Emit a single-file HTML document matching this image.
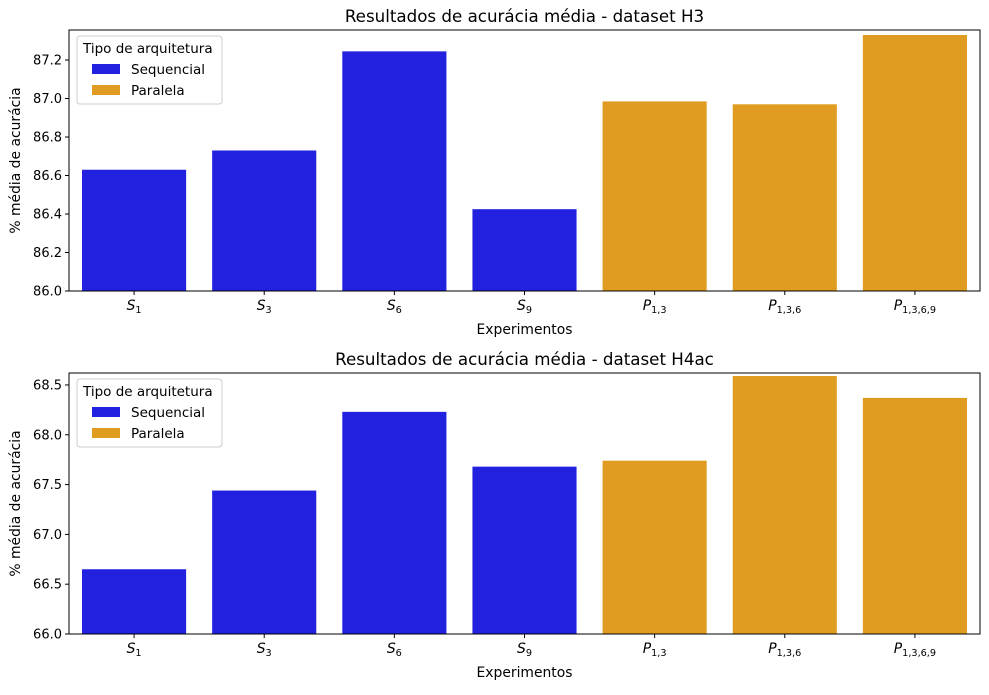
<!DOCTYPE html>
<html><head><meta charset="utf-8"><style>
body{margin:0;background:#fff;font-family:"Liberation Sans","DejaVu Sans",sans-serif;}
svg text{font-family:"DejaVu Sans","Liberation Sans",sans-serif;}
</style></head><body>
<svg id="chart" width="989" height="690" xmlns="http://www.w3.org/2000/svg"></svg>
<script>
const categories=["S|1","S|3","S|6","S|9","P|1,3","P|1,3,6","P|1,3,6,9"];
const groups=["seq","seq","seq","seq","par","par","par"];
const valuesH3=[86.63,86.73,87.245,86.425,86.985,86.97,87.33];
const valuesH4=[66.65,67.44,68.23,67.68,67.74,68.59,68.37];
const ticksH3=["86.0","86.2","86.4","86.6","86.8","87.0","87.2"];
const ticksH4=["66.0","66.5","67.0","67.5","68.0","68.5"];
const titles=["Resultados de acurácia média - dataset H3","Resultados de acurácia média - dataset H4ac"];
const colors={seq:"#2121df",par:"#e09c21"};
const NS="http://www.w3.org/2000/svg";
const svg=document.getElementById("chart");
function el(tag,attrs,parent){const e=document.createElementNS(NS,tag);for(const k in attrs)e.setAttribute(k,attrs[k]);(parent||svg).appendChild(e);return e;}
function panel(top,vals,ticks,ymin,ymax,title,name){
  const g=el("g",{});
  
  
  const L=69,R=980,T=top,B=top+261;
  const y=v=>B-(v-ymin)/(ymax-ymin)*(B-T);
  const band=(R-L)/categories.length;
  const x=i=>L+band*i+band*0.1;
  vals.forEach((v,i)=>{
    const r=el("rect",{x:x(i),y:y(v),width:band*0.8,height:B-y(v),fill:colors[groups[i]]},g);
    
    
  });
  el("rect",{x:L,y:T,width:R-L,height:B-T,fill:"none",stroke:"#000","stroke-width":1},g);
  ticks.forEach(t=>{
    const yy=y(parseFloat(t));
    el("line",{x1:L-4,x2:L,y1:yy,y2:yy,stroke:"#000"},g);
    const tx=el("text",{x:L-7,y:yy+4.5,"text-anchor":"end","font-size":13},g);tx.textContent=t;
    
    
  });
  categories.forEach((c,i)=>{
    const cx=L+band*(i+0.5);
    el("line",{x1:cx,x2:cx,y1:B,y2:B+4,stroke:"#000"},g);
    const [a,b]=c.split("|");
    const tx=el("text",{x:cx,y:B+19,"text-anchor":"middle","font-size":13.9},g);
    
    
    const t1=el("tspan",{"font-style":"italic"},tx);t1.textContent=a;
    const t2=el("tspan",{"font-size":9.7,dy:3},tx);t2.textContent=b;
  });
  const xt=el("text",{x:(L+R)/2,y:B+43,"text-anchor":"middle","font-size":13.9},g);xt.textContent="Experimentos";
  
  
  const yt=el("text",{x:0,y:0,"text-anchor":"middle","font-size":13.9,transform:`translate(20,${(T+B)/2}) rotate(-90)`},g);yt.textContent="% média de acurácia";
  
  
  const tt=el("text",{x:(L+R)/2,y:T-8,"text-anchor":"middle","font-size":16.7},g);tt.textContent=title;
  
  
  const lg=el("g",{},g);
  
  
  el("rect",{x:L+8,y:T+6,width:145,height:68,rx:3,fill:"#fff","fill-opacity":0.8,stroke:"#ccc"},lg);
  const lt=el("text",{x:L+14,y:T+23,"font-size":13.5},lg);lt.textContent="Tipo de arquitetura";
  [["Sequencial","seq"],["Paralela","par"]].forEach(([n,k],j)=>{
    const yy=T+34+j*21;
    const e=el("g",{},lg);
    
    
    el("rect",{x:L+23,y:yy,width:28,height:10,fill:colors[k]},e);
    const t=el("text",{x:L+62,y:yy+10,"font-size":13.5},e);t.textContent=n;
  });
}
panel(30,valuesH3,ticksH3,86.0,87.356,titles[0],"panel-h3");
panel(373,valuesH4,ticksH4,66.0,68.62,titles[1],"panel-h4ac");
</script>
</body></html>
